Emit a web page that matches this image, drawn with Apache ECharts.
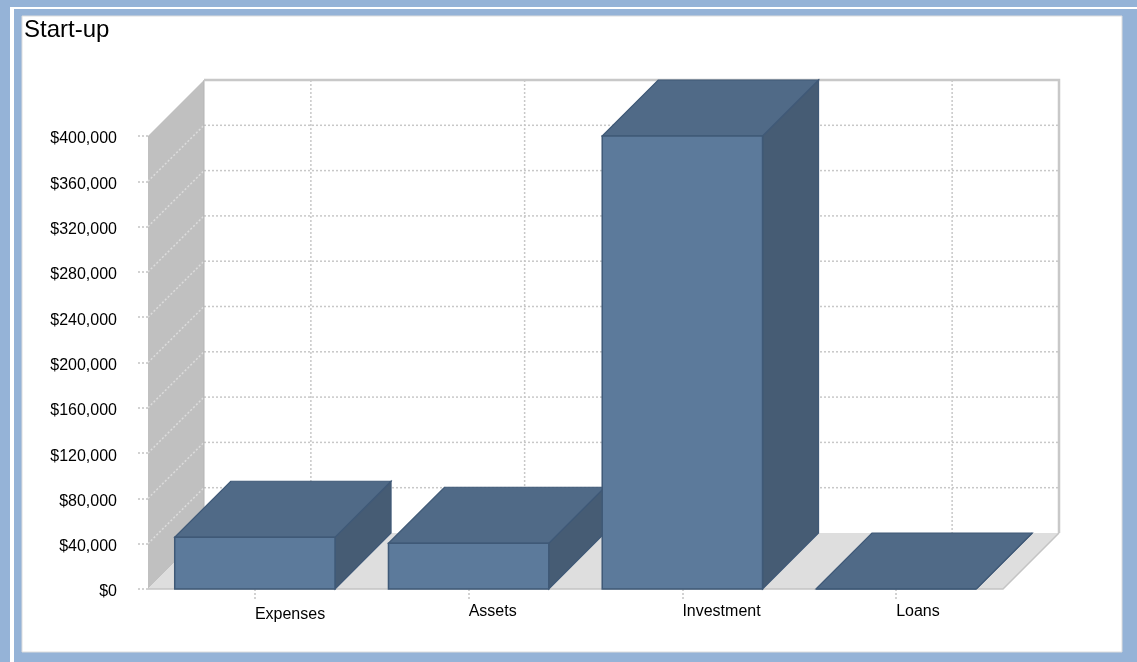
<!DOCTYPE html>
<html>
<head>
<meta charset="utf-8">
<script src="https://cdn.jsdelivr.net/npm/echarts@6/dist/echarts.min.js"></script>
<style>
html,body{margin:0;padding:0;background:#95B3D7;overflow:hidden;}
#chart{width:1137px;height:662px;}
</style>
</head>
<body>
<div id="chart"></div>
<script>
// ---- data ----
const title = 'Start-up';
const categories = ['Expenses', 'Assets', 'Investment', 'Loans'];
const values = [45700, 40400, 400000, 0];
const yMin = 0;
const yMax = 400000;
const yInterval = 40000;

// ---- style ----
const DEPTH = 56;
const FONT = 'Arial, "Liberation Sans", sans-serif';
const GRID_COLOR = '#c8c8c8';

function yTickValues() {
  const arr = [];
  for (let v = yMin; v <= yMax + 1e-6; v += yInterval) arr.push(v);
  return arr;
}

function wallsRender(params, api) {
  const cs = params.coordSys;
  const D = DEPTH;
  const x0 = cs.x, x1 = cs.x + cs.width, yt = cs.y, yb = cs.y + cs.height;
  const ch = [];
  ch.push({type: 'rect', shape: {x: x0 + D, y: yt - D, width: cs.width, height: cs.height},
           style: {fill: '#ffffff'}});
  yTickValues().forEach(v => {
    const y = api.coord([0, v])[1] - D;
    if (v === yMin || v === yMax) return;
    ch.push({type: 'line', shape: {x1: x0 + D, y1: y, x2: x1 + D, y2: y},
             style: {stroke: GRID_COLOR, lineWidth: 1.5, lineDash: [2, 2]}});
  });
  categories.forEach((c, i) => {
    const x = api.coord([i, 0])[0] + D;
    ch.push({type: 'line', shape: {x1: x, y1: yt - D, x2: x, y2: yb - D},
             style: {stroke: GRID_COLOR, lineWidth: 1.5, lineDash: [2, 2]}});
  });
  ch.push({type: 'polygon', shape: {points: [[x0, yb], [x0, yt], [x0 + D, yt - D], [x0 + D, yb - D]]},
           style: {fill: '#c0c0c0'}});
  yTickValues().forEach(v => {
    if (v === yMin || v === yMax) return;
    const y = api.coord([0, v])[1];
    ch.push({type: 'line', shape: {x1: x0, y1: y, x2: x0 + D, y2: y - D},
             style: {stroke: '#dcdcdc', lineWidth: 1.5, lineDash: [2, 2]}});
  });
  ch.push({type: 'line', shape: {x1: x0 + D, y1: yt - D, x2: x0 + D, y2: yb - D},
           style: {stroke: '#b4b4b4', lineWidth: 1}});
  ch.push({type: 'polygon', shape: {points: [[x0, yb], [x1, yb], [x1 + D, yb - D], [x0 + D, yb - D]]},
           style: {fill: '#dedede'}});
  ch.push({type: 'polyline', shape: {points: [[x0, yb], [x1, yb], [x1 + D, yb - D]]},
           style: {stroke: '#c4c4c4', lineWidth: 1.5, fill: null}});
  ch.push({type: 'polyline', shape: {points: [[x0 + D, yt - D], [x1 + D, yt - D], [x1 + D, yb - D]]},
           style: {stroke: '#c8c8c8', lineWidth: 2.5, fill: null}});
  return {type: 'group', children: ch};
}

function barRender(params, api) {
  const D = DEPTH;
  const cat = api.value(0), v = api.value(1);
  const top = api.coord([cat, v]);
  const base = api.coord([cat, yMin]);
  const bw = api.size([1, 0])[0] * 0.75;
  const xl = top[0] - bw / 2, xr = top[0] + bw / 2;
  const yT = top[1], yB = base[1];
  const stroke = '#3f5977';
  return {
    type: 'group',
    children: [
      {type: 'polygon', shape: {points: [[xr, yT], [xr + D, yT - D], [xr + D, yB - D], [xr, yB]]},
       style: {fill: '#465c74', stroke: stroke, lineWidth: 1.2}},
      {type: 'polygon', shape: {points: [[xl, yT], [xr, yT], [xr + D, yT - D], [xl + D, yT - D]]},
       style: {fill: '#506a87', stroke: stroke, lineWidth: 1.2}},
      {type: 'rect', shape: {x: xl, y: yT, width: bw, height: yB - yT},
       style: {fill: '#5c7a9b', stroke: stroke, lineWidth: 1.5}}
    ]
  };
}

const chart = echarts.init(document.getElementById('chart'), null, {renderer: 'canvas'});
chart.setOption({
  animation: false,
  backgroundColor: 'transparent',
  graphic: [
    {type: 'rect', silent: true, z: -100, shape: {x: 0, y: 0, width: 1137, height: 662}, style: {fill: '#95B3D7'}},
    {type: 'rect', silent: true, z: -99, shape: {x: 10, y: 7, width: 4, height: 700}, style: {fill: '#ffffff'}},
    {type: 'rect', silent: true, z: -99, shape: {x: 10, y: 7, width: 1127, height: 2}, style: {fill: '#ffffff'}},
    {type: 'rect', silent: true, z: -98, shape: {x: 22, y: 16, width: 1100, height: 636},
     style: {fill: '#ffffff', stroke: '#dddddd', lineWidth: 1}}
  ],
  title: {
    text: title, left: 19, top: 13,
    textStyle: {fontFamily: FONT, fontSize: 24, fontWeight: 'normal', color: '#000'}
  },
  grid: {left: 148, right: 134, top: 136, bottom: 73, containLabel: false},
  xAxis: {
    type: 'category',
    data: categories,
    boundaryGap: true,
    axisLine: {show: false},
    axisTick: {show: true, alignWithLabel: true, length: 10, lineStyle: {color: '#c4c4c4', type: [2, 2], width: 1.5}},
    axisLabel: {
      align: 'left', margin: 15, color: '#000', fontFamily: FONT, fontSize: 16,
      formatter: (val, idx) => idx === 0 ? '{lo|' + val + '}' : val,
      rich: {lo: {padding: [3, 0, 0, 0], fontFamily: FONT, fontSize: 16, color: '#000'}}
    },
    splitLine: {show: false}
  },
  yAxis: {
    type: 'value',
    min: yMin, max: yMax, interval: yInterval,
    axisLine: {show: false},
    axisTick: {show: true, length: 11, lineStyle: {color: '#c4c4c4', type: [2, 2], width: 1.5}},
    axisLabel: {
      margin: 31, color: '#000', fontFamily: FONT, fontSize: 16,
      formatter: v => '{v|$' + v.toLocaleString('en-US') + '}',
      rich: {v: {padding: [6, 0, 0, 0], fontFamily: FONT, fontSize: 16, color: '#000'}}
    },
    splitLine: {show: false}
  },
  series: [
    {type: 'custom', name: 'walls', z: 1, clip: false, silent: true,
     renderItem: wallsRender, data: [[0, 0]]},
    {type: 'custom', name: 'Start-up', z: 3, clip: false,
     renderItem: barRender, data: values.map((v, i) => [i, v])}
  ]
});
</script>
</body>
</html>
